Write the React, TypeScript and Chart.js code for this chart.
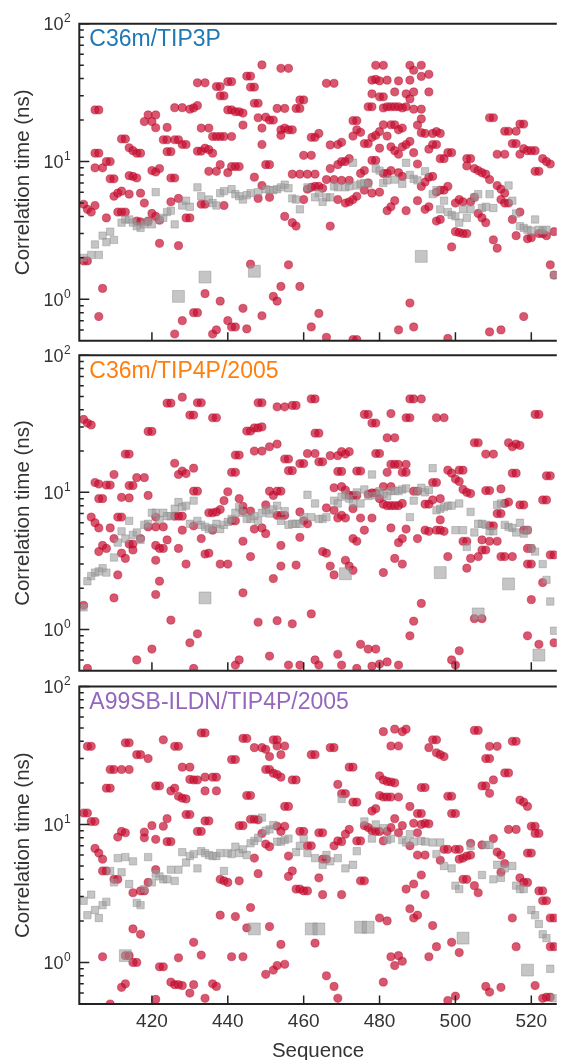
import { useEffect, useRef } from 'react';
import { Chart, registerables } from 'chart.js';

Chart.register(...registerables);
Chart.defaults.font.family = '"Liberation Sans", Arial, Helvetica, sans-serif';

type P = [number, number];

const xTickValues = [420, 440, 460, 480, 500, 520];
const yMajorValues = [1, 10, 100];
const yMajorExponents = ['0', '1', '2'];
const panelLabels = ['C36m/TIP3P', 'C36m/TIP4P/2005', 'A99SB-ILDN/TIP4P/2005'];
const panelColors = ['#1f77b4', '#ff7f0e', '#9467bd'];

// ---------- Panel 1: C36m/TIP3P ----------
const p1Red: P[] = [
  [402,4.9],[403,4.5],[404,4.3],[405,4.8],[402,1.9],[403,1.9],[405,23.7],[406,23.7],[405,11.5],[406,11.5],
  [405,9.0],[407,9.0],[408,3.9],[407,1.2],[406,0.75],[408,10.0],[409,10.0],[409,7.5],[410,7.5],[410,5.6],
  [411,5.9],[412,6.1],[412,14.6],[413,14.6],[411,4.3],[412,4.3],[413,4.3],[414,12.6],[415,12.0],[416,11.5],
  [417,11.5],[414,7.9],[415,7.8],[416,7.6],[414,5.8],[416,3.7],[417,3.65],[417,5.9],[418,5.0],[419,3.7],
  [418,19.5],[419,21.8],[420,19.5],[421,21.8],[421,17.6],[420,8.6],[421,8.4],[422,8.9],[420,4.2],[421,4.0],
  [422,3.75],[422,2.55],[423,14.4],[424,14.4],[424,17.7],[424,11.8],[425,11.8],[426,14.4],[427,14.4],[425,7.6],
  [426,7.6],[425,5.1],[427,2.45],[427,5.4],[426,24.6],[428,24.6],[428,13.3],[429,13.3],[429,3.9],[430,3.9],
  [430,24],[431,24.5],[432,25.5],[432,37.3],[434,37.3],[432,11.9],[433,11.9],[434,12.5],[435,12.2],[436,11.5],
  [433,17.5],[435,17.5],[433,4.9],[434,4.9],[436,15.2],[437,15.2],[438,15.2],[439,15.2],[435,8.5],[437,8.5],
  [437,35],[438,35],[438,30],[439,30],[438,9.5],[439,4.8],[440,38],[441,38],[440,23.7],[441,23.7],
  [442,23],[443,23],[444,22.5],[441,15.2],[440,8.3],[441,9.2],[442,9.2],[443,9.2],[444,18.4],[445,41.7],
  [446,41.7],[446,34.7],[447,34.7],[447,26.5],[448,26.5],[447,7.7],[449,50.3],[448,20.8],[450,21],[451,20],
  [449,17.5],[449,13.3],[449,6.7],[450,9.5],[451,9.5],[448,5.4],[451,5.5],[452,20],
  [426,0.56],[428,0.70],[431,0.8],[432,0.8],[434,1.1],[436,0.56],[437,0.6],[438,0.97],[440,0.70],[441,0.63],
  [442,0.63],[444,0.86],[445,0.61],[446,1.8],[449,0.76],[452,1.05],
  [454,47.5],[456,47.5],[453,24.3],[455,24.3],[454,17],[455,17.5],[456,17],[457,17],[454,15.5],[459,28],
  [460,28],[458,24.3],[459,24.3],[455,4.0],[457,3.6],[458,3.4],[456,1.78],[454,1.24],[459,1.24],[453,0.97],
  [457,8.1],[459,8.1],[461,8.1],[463,8.1],[460,11.1],[462,11.1],[460,5.3],[461,6.3],[462,6.5],[463,6.6],
  [464,6.6],[465,6.4],[462,15],[463,15],[464,16],[462,0.63],[464,0.79],[466,37],[468,37],[467,13.2],
  [469,13.3],[470,13.8],[467,8.9],[469,9.5],[470,10],[471,10],[472,10.5],[466,7.4],[468,7.4],[470,7.3],
  [472,7.3],[469,5.3],[471,5.0],[472,5.1],[473,5.3],[474,5.6],[467,3.4],[466,0.53],[473,0.51],[474,0.51],
  [473,19.8],[474,19.8],[474,17],[475,16.3],[473,15.3],[476,13.5],[477,13.5],[476,8.6],[475,8.2],[476,6.2],
  [477,7.0],[478,10.2],[479,10.2],[478,15],[479,15.5],[480,16.5],[481,18.5],[477,25],[478,25],[478,31],
  [478,39],[479,39.5],[480,38.5],[482,39],[479,50],[481,50],[480,29.5],[481,29.5],[478,5.9],[480,6.0],
  [480,12.5],[481,8.2],[482,8.2],[482,4.4],[483,4.7],[484,5.2],[482,15.3],[483,18.5],[484,18.5],[483,12.8],
  [484,12],[485,11.3],[481,24.5],[482,25],[483,25],[484,25],[485,25],[486,24.5],[487,25],[484,32],
  [485,38.5],[486,12.8],[487,13.3],[488,14],[485,17],[486,17.5],[483,8.6],[485,8.3],[486,7.8],[487,4.4],
  [487,31],[488,28.5],[489,32],[488,39],[488,50],[489,46],[491,50],[491,41.5],[493,43],[489,24],
  [491,24],[493,32],[491,20.4],[490,18.4],[491,16.2],[492,16],[494,16],[495,16.5],[496,16],[494,13.3],
  [495,13.3],[493,12.3],[496,10.5],[497,10.5],[489,11.6],[490,9.6],[491,6.6],[492,7.1],[493,7.7],[494,7.8],
  [495,6.0],[496,6.2],[497,6.2],[498,6.6],[492,4.5],[493,4.7],[495,3.7],[496,3.8],[490,5.2],[498,11.6],
  [499,11.6],[499,2.4],[488,0.94],[489,0.63],[485,0.6],[498,0.52],[500,5.0],[501,5.3],[502,5.1],[500,3.1],
  [501,3.05],[502,3.0],[503,3.0],[503,10.5],[504,10.5],[503,9.3],[505,8.9],[506,8.6],[507,8.3],[508,8.1],
  [509,7.4],[504,5.1],[505,5.5],[506,4.2],[507,3.9],[508,3.6],[509,0.58],[512,0.6],[509,20.8],[510,20.8],
  [510,2.7],[511,2.35],[511,11.3],[513,11.3],[511,6.7],[512,6.3],[513,5.9],[512,5.3],[513,5.0],[514,5.0],
  [513,16.6],[514,16.6],[516,16.6],[515,13.5],[516,13.5],[517,18.7],[518,18.7],[517,11.3],[518,12.4],[519,12],
  [520,12],[521,12],[521,8.5],[522,8.5],[517,4.3],[515,3.8],[516,2.9],[519,2.75],[520,2.8],[522,3.0],
  [523,3.0],[524,2.9],[523,10.5],[524,10],[525,9.6],[518,0.75],[525,1.78],[526,1.5],[526,3.1],
];
const p1Gray: P[] = [
  [402,2.0],[404,2.1],[405,2.5],[406,2.1],[407,2.9],[408,2.6],[409,3.1],[410,2.7],[412,3.6],[413,3.8],
  [414,3.8],[415,3.6],[416,3.4],[417,3.3],[418,3.5],[419,3.65],[420,3.5],[421,6.0],[422,3.8],[423,3.9],
  [424,4.3],[425,4.4],[426,3.5],[428,4.8],[429,5.2],[430,4.7],[432,6.5],[433,5.6],[435,5.3],[436,5.0],
  [437,4.8],[438,5.9],[439,6.1],[441,6.3],[442,5.8],[443,5.6],[444,5.3],[445,5.7],[446,5.9],[448,6.0],
  [450,6.3],[451,6.2],[452,6.2],[453,6.3],[454,6.5],[455,6.8],[456,6.4],[457,5.4],[458,5.3],[459,4.5],
  [461,6.5],[463,5.5],[464,5.9],[465,5.1],[466,5.5],[467,5.5],[468,6.6],[469,6.5],[471,6.5],[472,6.6],
  [473,9.8],[474,6.7],[475,6.9],[476,7.0],[477,6.9],[479,8.9],[480,8.6],[481,7.0],[482,7.3],[484,7.4],
  [486,6.9],[487,9.8],[488,8.0],[489,7.5],[490,7.3],[492,8.5],[494,5.8],[495,6.2],[496,4.5],[497,5.2],
  [498,4.3],[499,4.1],[500,4.0],[501,3.6],[502,4.5],[503,3.9],[504,4.5],[505,5.5],[506,5.8],[507,4.6],
  [508,4.7],[509,5.8],[510,4.6],[514,6.7],[515,5.2],[516,4.2],[517,3.4],[518,3.3],[519,3.2],[520,3.15],
  [521,3.8],[522,3.2],[523,3.15],[524,3.2],[526,1.5],
];
const p1GrayBig: P[] = [[427,1.05],[434,1.45],[447,1.6],[491,2.05]];

// ---------- Panel 2: C36m/TIP4P/2005 ----------
const p2Red: P[] = [
  [402,34],[403,32],[404,31],[402,1.5],[403,0.52],[404,6.6],[405,6.0],[406,5.5],[405,11.8],[406,11.5],
  [408,11.3],[409,11.3],[406,9.0],[407,9.0],[406,3.7],[407,4.1],[408,3.9],[409,5.5],[410,13.5],[410,4.6],
  [411,2.5],[410,1.7],[411,6.6],[412,6.6],[412,9.2],[414,9.1],[412,3.6],[413,3.3],[414,4.2],[415,4.2],
  [413,19],[414,19],[414,11.2],[415,11.2],[415,3.8],[416,12.8],[418,12.8],[416,0.6],[417,4.6],[419,9.5],
  [419,5.6],[419,27.8],[420,27.8],[420,0.72],[421,6.6],[421,5.6],[421,4.1],[422,3.9],[421,3.2],[421,1.8],
  [422,2.25],[423,3.9],[424,4.5],[423,5.6],[424,44.7],[425,44.7],[425,1.17],[426,16.3],[426,6.7],[427,3.9],
  [427,13.5],[428,14.3],[429,13.7],[427,6.7],[428,6.7],[428,5.3],[429,3.0],[428,49.4],[430,36.6],[431,36.6],
  [430,0.8],[431,15],[431,10.2],[432,10.2],[431,5.7],[432,45],[433,45],[432,0.93],[431,0.52],[433,4.6],
  [434,3.55],[435,3.6],[435,7.1],[436,7.1],[437,7.2],[438,7.5],[436,35],[437,35],[436,5.3],[438,3.0],
  [440,3.0],[440,10.1],[439,8.7],[441,6.2],[442,6.2],[441,14],[442,14],[442,18.7],[443,18.7],[442,0.55],
  [443,0.6],[443,9.0],[444,7.9],[444,4.4],[444,1.85],[444,7.3],[445,28],[446,28],[447,29.5],[448,29.5],
  [449,30],[446,3.4],[446,7.3],[447,5.4],[448,45],[449,45],[447,20],[449,20],[448,1.13],[449,5.5],
  [450,8.1],[450,5.0],[451,0.64],[451,21.5],[451,10.2],[452,9.5],[452,2.35],
  [453,42],[455,42],[457,43],[458,43],[462,48],[463,48],[453,22.5],[455,17.5],[456,17.5],[456,14.4],
  [457,14.4],[453,10.2],[454,10.2],[453,6.8],[454,6.8],[455,6.8],[454,4.1],[454,2.9],[458,2.95],[453,1.16],
  [457,1.1],[456,0.55],[459,16.2],[460,16.2],[461,19.2],[463,19.2],[463,27],[464,27],[464,16.7],[465,16.7],
  [467,18.5],[469,18.5],[470,19.8],[471,19],[472,19.8],[469,14.2],[470,14.2],[474,14.3],[475,14.3],[476,37],
  [477,37],[478,32],[479,32],[479,19.2],[480,19.2],[483,37.5],[482,25],[484,25],[487,35],[488,35],
  [488,48],[489,48],[491,48],[495,35],[497,35],[483,16],[484,16],[485,16],[486,14],[487,14],
  [487,16],[482,14],[481,11],[483,11],[483,8.0],[484,8.0],[485,8.0],[486,8.3],[459,7.2],[460,6.2],
  [461,5.9],[459,4.7],[462,1.3],[463,0.6],[464,0.55],[459,0.55],[465,3.7],[466,3.6],[467,2.9],[468,2.5],
  [468,10.8],[470,11],[471,10.4],[472,9.5],[473,9.5],[474,9.5],[466,7.7],[468,7.4],[469,6.5],[470,6.8],
  [471,6.5],[473,7.6],[475,6.5],[478,6.5],[476,5.3],[473,4.6],[474,4.4],[471,3.2],[472,2.9],[473,2.7],
  [469,0.66],[470,0.55],[474,0.52],[475,0.78],[477,0.72],[479,0.72],[478,0.54],[480,0.56],[482,0.58],[485,0.55],
  [477,9.7],[478,9.9],[479,9.9],[480,9.0],[481,8.2],[482,8.0],[483,5.5],[485,4.3],[486,4.6],[484,3.3],
  [486,3.0],[481,2.6],[487,5.4],[489,10.2],[490,10.2],[490,4.6],[491,1.55],[489,1.15],[488,0.9],[492,8.2],
  [493,8.2],[492,5.3],[493,5.2],[495,5.3],[496,5.3],[497,5.2],[494,11.8],[495,11.8],[494,8.8],[496,9.0],
  [496,6.3],[498,14.5],[499,13.8],[500,12.5],[501,12],[501,14.5],[502,14.5],[502,10.5],[503,10],[504,9.8],
  [498,3.4],[499,0.6],[500,0.55],[501,0.7],[502,4.4],[503,4.4],[503,2.8],[504,3.3],[506,3.4],[505,1.2],
  [507,1.2],[505,23],[506,23],[507,3.8],[508,3.8],[508,19],[510,19],[508,10.3],[509,10.3],[507,4.5],
  [509,5.7],[510,5.7],[509,4.4],[511,4.4],[512,10.6],[511,7.0],[512,7.0],[513,8.3],[514,8.5],[512,3.4],
  [513,3.4],[515,3.4],[514,23],[516,22.5],[517,22],[515,21.5],[515,13.8],[516,13.8],[517,8.1],[518,8.1],
  [518,5.3],[519,5.3],[519,3.9],[520,3.9],[519,3.0],[520,3.0],[520,1.65],[519,0.9],[521,37],[522,37],
  [522,0.78],[523,2.2],[523,8.8],[524,8.8],[524,13.2],[525,13.2],[525,3.5],[526,3.5],[526,0.8],
];
const p2Gray: P[] = [
  [402,1.45],[403,2.25],[404,2.45],[405,2.6],[406,2.65],[407,2.8],[408,2.6],[410,3.35],[411,4.3],[412,5.2],
  [413,4.6],[414,6.2],[415,4.9],[416,5.1],[417,4.5],[418,5.8],[419,5.9],[420,7.1],[421,7.1],[422,6.3],
  [423,7.1],[424,6.7],[425,6.7],[426,7.6],[427,8.5],[428,7.8],[429,8.0],[430,5.9],[431,8.7],[432,6.2],
  [433,5.8],[434,5.6],[435,5.4],[436,5.5],[437,5.9],[438,5.4],[439,5.8],[440,6.1],[441,6.4],[442,7.1],
  [443,7.8],[444,7.1],[445,6.4],[446,6.4],[447,6.7],[448,6.2],[449,7.1],[450,7.4],[451,7.0],[452,7.5],
  [453,8.0],[454,6.2],[455,7.3],[456,5.8],[457,5.9],[458,5.9],[459,5.9],[460,6.6],[461,9.6],[462,6.6],
  [463,8.3],[464,6.4],[465,6.4],[466,6.6],[468,8.7],[469,8.3],[470,9.3],[471,9.6],[472,9.0],[473,8.4],
  [474,10.0],[475,8.3],[476,10.5],[477,9.4],[478,13.5],[479,9.5],[480,10.2],[481,9.7],[482,9.4],[483,10.2],
  [484,10.3],[485,10.2],[486,10.5],[487,10.7],[488,6.6],[489,8.7],[490,10.2],[491,10.8],[492,10.0],[493,10.4],
  [494,15],[495,7.4],[496,7.6],[497,7.8],[498,8.0],[499,8.0],[500,5.3],[501,8.3],[502,5.3],[503,4.0],
  [504,7.2],[505,5.1],[506,5.9],[507,5.9],[508,5.8],[509,5.2],[510,5.2],[511,8.1],[512,8.3],[513,5.8],
  [514,5.6],[515,5.5],[516,5.1],[517,6.0],[518,5.0],[519,5.3],[520,3.9],[521,3.7],[523,3.0],[524,2.3],
  [525,1.6],[526,0.98],
];
const p2GrayBig: P[] = [[434,1.7],[471,2.55],[496,2.6],[514,2.15],[506,1.3],[522,0.65]];

// ---------- Panel 3: A99SB-ILDN/TIP4P/2005 ----------
const p3Red: P[] = [
  [402,12.1],[403,12.1],[403,36.8],[404,36.8],[404,10.5],[405,10.5],[405,6.7],[406,6.2],[407,5.6],[407,4.6],
  [408,4.6],[408,18.3],[409,18.3],[409,25],[410,25],[410,4.0],[411,4.0],[407,1.1],[409,0.5],[411,8.1],
  [412,8.9],[413,8.7],[412,0.66],[413,0.7],[412,25],[413,39],[414,39],[414,25],[413,1.12],[414,1.12],
  [415,3.2],[415,1.75],[416,32],[417,32],[416,1.0],[415,1.0],[417,1.6],[417,3.3],[418,3.3],[419,30],
  [418,8],[418,8.8],[420,9.8],[419,3.8],[421,4.7],[421,7.8],[421,0.54],[421,19],[422,19],[423,41],
  [423,9.7],[424,11],[424,7.5],[425,7.5],[422,0.93],[423,0.93],[425,17.5],[426,18.3],[426,36.8],[427,36.8],
  [425,0.72],[426,0.69],[427,0.69],[427,1.08],[427,16],[428,15.5],[429,15.3],[428,26],[430,26],[429,11.8],
  [430,11.8],[430,21.2],[431,21],[432,21],[428,0.68],[430,0.6],[431,0.69],[431,1.4],[432,8.9],[433,8.9],
  [433,1.13],[433,46],[434,46],[434,22],[434,17.5],[434,10.6],[435,10.6],[434,0.55],[436,22],[437,22],
  [437,17.5],[436,0.7],[437,0.67],[438,4.0],[439,3.9],[440,3.8],[438,2.2],[441,29.5],[442,29.5],[441,1.1],
  [442,2.15],[443,3.9],[443,9.8],[444,9.8],[444,42],[445,42],[444,1.1],[445,1.78],[445,16.2],[446,16.2],
  [446,2.5],[446,10.9],[447,10.9],[448,10.8],[447,36],[447,5.7],[448,4.4],[449,36],[450,35],[449,8.6],
  [450,7.2],[451,6.9],[450,25],[451,25],[452,23.5],[451,1.82],[450,0.82],[451,31],[452,41],[452,0.88],
  [453,41],[453,37],[455,37],[454,32],[453,23],[454,22],[457,21],[458,21],[455,13.5],[456,13.5],
  [453,9.7],[455,9.7],[454,8.9],[456,5.9],[457,4.6],[456,4.2],[458,3.4],[459,3.4],[460,3.3],[461,3.3],
  [459,8.9],[460,8.9],[461,7.0],[462,7.0],[462,32],[463,32],[464,8.7],[465,8.7],[465,5.6],[466,5.6],
  [464,4.1],[465,3.1],[463,1.38],[454,1.35],[455,0.97],[453,0.95],[466,0.8],[468,0.67],[469,0.55],[467,36],
  [468,36],[469,19.5],[470,16.7],[471,16.7],[468,7],[469,7.6],[470,7.5],[471,8.5],[472,9.2],[470,3.1],
  [472,26],[473,26],[473,14.5],[474,14.5],[474,7.6],[475,7.6],[475,3.9],[476,3.9],[476,9.8],[477,9.5],
  [478,9.0],[478,12.5],[479,13],[480,22.5],[481,21],[482,20.5],[483,20.3],[484,20],[480,16.2],[481,15.8],
  [482,15.8],[483,15.8],[485,15.8],[479,8.9],[480,8.9],[481,7.6],[482,8.9],[483,9.5],[484,11],[485,8.7],
  [486,9.8],[488,13.5],[488,7.0],[487,3.4],[489,3.7],[488,2.45],[489,2.1],[490,2.2],[490,12],[491,12],
  [489,10.2],[491,10],[492,10.2],[493,10.1],[490,8.7],[490,6.0],[492,6.0],[491,18.5],[492,18.5],[491,4.3],
  [492,3.1],[493,36],[494,41],[495,41],[495,33],[496,32],[497,31],[481,47],[484,49],[486,47],
  [487,49],[483,37],[485,37],[480,2.1],[482,2.0],[483,1.1],[485,1.12],[486,1.02],[484,0.95],[481,0.72],
  [494,1.85],[495,1.3],[493,1.1],[496,5.5],[497,6.6],[498,6.6],[500,6.6],[501,6.6],[498,16],[499,16],
  [499,12],[500,12],[499,1.4],[501,1.18],[498,0.53],[500,0.57],[501,5.6],[502,5.7],[503,5.9],[504,6.0],
  [502,4.0],[503,4.0],[504,7.3],[505,48],[506,48],[505,3.6],[506,3.2],[507,7.1],[508,30],[509,30],
  [509,36.8],[511,36.8],[507,19],[508,19],[510,21],[509,16.8],[508,0.67],[509,0.61],[512,0.66],[510,7.9],
  [511,6.3],[512,6.0],[513,5.2],[512,4.5],[513,23.6],[514,23.6],[514,9.2],[516,9.2],[515,40],[516,40],
  [515,2.1],[516,1.3],[517,15],[518,14.5],[519,13.5],[517,4.1],[518,3.8],[519,3.8],[519,6.2],[520,6.2],
  [520,9.7],[521,9.7],[521,8.6],[522,8.6],[521,0.68],[522,3.3],[523,3.3],[523,2.8],[524,2.8],[525,2.1],
  [526,2.1],[525,1.3],[526,1.3],[523,0.55],[524,0.56],[525,0.56],
];
const p3Gray: P[] = [
  [402,2.8],[403,2.2],[404,3.1],[405,2.4],[406,2.1],[407,2.6],[408,2.75],[409,4.6],[410,3.8],[411,5.7],
  [412,4.5],[413,5.8],[414,3.7],[415,5.4],[416,2.7],[417,2.6],[418,3.4],[419,5.8],[420,3.8],[421,4.4],
  [422,4.2],[423,4.0],[424,4.0],[425,4.7],[426,3.9],[427,4.7],[428,6.3],[429,5.3],[430,5.9],[431,6.1],
  [432,4.8],[433,6.4],[434,6.2],[435,6.0],[436,5.9],[437,5.9],[438,6.2],[439,4.6],[440,6.2],[441,6.1],
  [442,6.9],[443,6.2],[444,6.6],[445,6.0],[446,7.3],[447,7.6],[448,8.0],[449,11.2],[450,9.0],[451,9.2],
  [452,9.9],[453,7.5],[454,7.5],[455,7.7],[456,7.9],[458,6.3],[459,7.0],[460,7.9],[461,6.2],[463,5.7],
  [465,5.1],[466,6.0],[467,5.4],[469,5.7],[470,15.3],[471,4.8],[473,5.1],[474,6.4],[476,10.5],[478,7.9],
  [479,10.0],[481,9.4],[482,7.7],[483,7.9],[486,7.7],[487,7.4],[488,8.5],[489,7.5],[491,7.6],[492,7.5],
  [494,7.4],[495,6.1],[496,7.4],[497,5.0],[499,4.8],[500,3.6],[501,3.4],[504,7.0],[507,4.3],[508,7.1],
  [509,7.1],[510,4.0],[511,5.1],[512,4.1],[513,4.8],[515,5.0],[516,3.6],[517,3.4],[518,3.4],[520,2.4],
  [521,2.2],[522,1.9],[523,1.6],[524,1.5],[525,0.9],[526,0.55],
];
const p3GrayBig: P[] = [[413,1.12],[447,1.75],[462,1.75],[464,1.75],[475,1.8],[477,1.8],[502,1.5],[519,0.88]];

const X_MIN = 400.86;
const X_MAX = 526.72;
const FONT = '"Liberation Sans", Arial, Helvetica, sans-serif';

type PanelCfg = {
  idx: number;
  top: number;
  height: number;
  padTop: number;
  padBottom: number;
  showX: boolean;
  red: P[];
  gray: P[];
  grayBig: P[];
};

const toXY = (arr: P[]) => arr.map(([x, y]) => ({ x, y }));

function Panel({ cfg }: { cfg: PanelCfg }) {
  const ref = useRef<HTMLCanvasElement | null>(null);
  useEffect(() => {
    if (!ref.current) return;
    const framePlugin = {
      id: 'frame' + cfg.idx,
      afterDraw(chart: any) {
        const { ctx, chartArea: a, scales } = chart;
        const xs = scales.x;
        const ys = scales.y;
        ctx.save();
        ctx.strokeStyle = '#222';
        ctx.lineWidth = 2;
        ctx.beginPath();
        ctx.moveTo(a.left - 1, a.top);
        ctx.lineTo(a.right, a.top);
        ctx.moveTo(a.left, a.top);
        ctx.lineTo(a.left, a.bottom);
        ctx.moveTo(a.left - 1, a.bottom);
        ctx.lineTo(a.right, a.bottom);
        ctx.stroke();
        ctx.lineWidth = 1.5;
        ctx.beginPath();
        for (const v of yMajorValues) {
          const py = ys.getPixelForValue(v);
          ctx.moveTo(a.left, py);
          ctx.lineTo(a.left + 10, py);
        }
        for (const dec of [0.1, 1, 10]) {
          for (let k = 2; k <= 9; k++) {
            const v = k * dec;
            if (v <= 0.5 || v >= 100) continue;
            const py = ys.getPixelForValue(v);
            ctx.moveTo(a.left, py);
            ctx.lineTo(a.left + 4.5, py);
          }
        }
        for (const v of xTickValues) {
          const px = xs.getPixelForValue(v);
          ctx.moveTo(px, a.bottom);
          ctx.lineTo(px, a.bottom - 8.5);
        }
        ctx.stroke();
        ctx.fillStyle = '#333';
        yMajorValues.forEach((v, i) => {
          const py = ys.getPixelForValue(v);
          ctx.font = `18px ${FONT}`;
          ctx.textAlign = 'right';
          ctx.textBaseline = 'alphabetic';
          ctx.fillText('10', 63.5, py + 6.5);
          ctx.font = `12px ${FONT}`;
          ctx.textAlign = 'left';
          ctx.fillText(yMajorExponents[i], 64, py - 1.5);
        });
        ctx.font = `23px ${FONT}`;
        ctx.fillStyle = panelColors[cfg.idx];
        ctx.textAlign = 'left';
        ctx.textBaseline = 'alphabetic';
        ctx.fillText(panelLabels[cfg.idx], a.left + 10, a.top + 22.5);
        ctx.restore();
      },
    };
    const chart = new Chart(ref.current, {
      type: 'scatter',
      data: {
        datasets: [
          {
            data: toXY(cfg.gray),
            pointStyle: 'rect',
            pointRadius: 5.2,
            backgroundColor: 'rgba(155,155,155,0.58)',
            borderColor: 'rgba(130,130,130,0.5)',
            borderWidth: 0.8,
          },
          {
            data: toXY(cfg.grayBig),
            pointStyle: 'rect',
            pointRadius: 8.4,
            backgroundColor: 'rgba(155,155,155,0.58)',
            borderColor: 'rgba(130,130,130,0.5)',
            borderWidth: 0.8,
          },
          {
            data: toXY(cfg.red),
            pointStyle: 'circle',
            pointRadius: 4.1,
            backgroundColor: 'rgba(200,14,48,0.7)',
            borderColor: 'rgba(175,0,35,0.6)',
            borderWidth: 0.7,
          },
        ],
      },
      options: {
        animation: false,
        responsive: false,
        events: [],
        layout: { padding: { top: cfg.padTop, bottom: cfg.padBottom, left: 0, right: 0 } },
        plugins: { legend: { display: false }, tooltip: { enabled: false } },
        scales: {
          x: {
            type: 'linear',
            min: X_MIN,
            max: X_MAX,
            display: cfg.showX,
            grid: { display: false },
            border: { display: false },
            afterBuildTicks: (s: any) => {
              s.ticks = xTickValues.map((v) => ({ value: v }));
            },
            afterFit: (s: any) => {
              s.height = cfg.showX ? 56 : 0;
            },
            ticks: {
              font: { size: 19 },
              color: '#333',
              padding: -2,
              maxRotation: 0,
              autoSkip: false,
              callback: (v: any) => String(v),
            },
            title: {
              display: true,
              text: 'Sequence',
              font: { size: 20.5 },
              color: '#333',
              padding: { top: 0, bottom: -4 },
            },
          },
          y: {
            type: 'logarithmic',
            min: 0.5,
            max: 100,
            grid: { display: false },
            border: { display: false },
            ticks: { display: false },
            afterFit: (s: any) => {
              s.width = 79.3;
            },
            title: {
              display: true,
              text: 'Correlation time (ns)',
              font: { size: 20.5 },
              color: '#333',
              padding: { top: 11, bottom: 0 },
            },
          },
        },
      } as any,
      plugins: [framePlugin],
    });
    return () => chart.destroy();
  }, [cfg]);
  return (
    <canvas
      ref={ref}
      width={566}
      height={cfg.height}
      style={{ position: 'absolute', left: 0, top: cfg.top, width: 566, height: cfg.height }}
    />
  );
}

const panels: PanelCfg[] = [
  { idx: 0, top: 0, height: 350, padTop: 23.8, padBottom: 8.6, showX: false, red: p1Red, gray: p1Gray, grayBig: p1GrayBig },
  { idx: 1, top: 343, height: 337, padTop: 12.2, padBottom: 7.2, showX: false, red: p2Red, gray: p2Gray, grayBig: p2GrayBig },
  { idx: 2, top: 674, height: 386, padTop: 12.4, padBottom: 0, showX: true, red: p3Red, gray: p3Gray, grayBig: p3GrayBig },
];

export default function App() {
  return (
    <div style={{ position: 'absolute', left: 0, top: 0, width: 566, height: 1060, background: '#fff', overflow: 'hidden' }}>
      {panels.map((p) => (
        <Panel key={p.idx} cfg={p} />
      ))}
    </div>
  );
}
